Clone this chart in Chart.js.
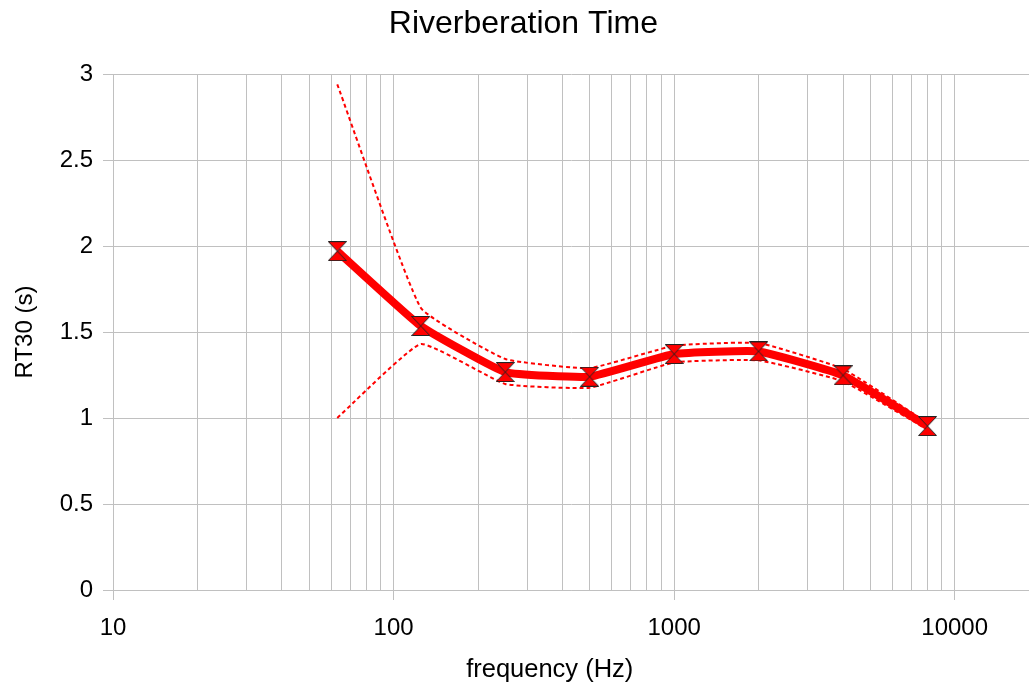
<!DOCTYPE html>
<html>
<head>
<meta charset="utf-8">
<title>Riverberation Time</title>
<script src="https://cdn.jsdelivr.net/npm/chart.js@4.4.1/dist/chart.umd.min.js"></script>
<style>
  html, body { margin: 0; padding: 0; background: #fff; }
  #wrap { width: 1029px; height: 688px; position: relative; }
  canvas { display: block; }
</style>
</head>
<body>
<div id="wrap"><canvas id="myCanvas"></canvas></div>
<script>
// octave band centres (Hz)
const freqs = [63, 125, 250, 500, 1000, 2000, 4000, 8000];

// RT30 (s)
const rt30 = [1.97, 1.535, 1.267, 1.24, 1.372, 1.387, 1.248, 0.953];
const rt30Upper = [2.94, 1.641, 1.343, 1.29, 1.42, 1.436, 1.285, 0.972];
const rt30Lower = [1.0, 1.43, 1.198, 1.176, 1.323, 1.335, 1.213, 0.932];

// x axis labelled decades
const decades = [10, 100, 1000, 10000];
const xMax = 18400;

const toPoints = (vals) => freqs.map((f, i) => ({ x: f, y: vals[i] }));

// hourglass marker
function hourglass() {
  const c = document.createElement('canvas');
  c.width = 19;
  c.height = 20;
  const g = c.getContext('2d');
  g.fillStyle = '#ff0000';
  g.strokeStyle = '#222';
  g.lineWidth = 1;
  g.beginPath();
  g.moveTo(0.5, 0.5);
  g.lineTo(18.5, 0.5);
  g.lineTo(9.5, 10);
  g.closePath();
  g.moveTo(0.5, 19.5);
  g.lineTo(18.5, 19.5);
  g.lineTo(9.5, 10);
  g.closePath();
  g.fill();
  g.stroke();
  return c;
}

// grid lines at 1..9 x each decade, inside the axis range
const gridValues = [];
decades.forEach(d => {
  for (let k = 1; k <= 9; k++) {
    if (d * k < xMax) gridValues.push(d * k);
  }
});

const isDecade = (v) => decades.includes(v);
const FONT = '"Liberation Sans", Arial, sans-serif';

const data = {
  datasets: [
    {
      label: 'RT30',
      data: toPoints(rt30),
      borderColor: '#ff0000',
      backgroundColor: '#ff0000',
      borderWidth: 8,
      pointStyle: hourglass(),
      pointRadius: 10,
      tension: 0.12,
      order: 0
    },
    {
      label: 'upper',
      data: toPoints(rt30Upper),
      borderColor: '#ff0000',
      borderWidth: 2,
      borderDash: [4, 3],
      pointRadius: 0,
      tension: 0.12,
      order: 1
    },
    {
      label: 'lower',
      data: toPoints(rt30Lower),
      borderColor: '#ff0000',
      borderWidth: 2,
      borderDash: [4, 3],
      pointRadius: 0,
      tension: 0.12,
      order: 2
    }
  ]
};

const config = {
  type: 'line',
  data: data,
  options: {
    responsive: true,
    maintainAspectRatio: false,
    animation: false,
    layout: { padding: 0, autoPadding: false },
    plugins: {
      legend: { display: false },
      tooltip: { enabled: false },
      title: {
        display: true,
        // leading spaces nudge the title a little right, like the original
        text: '  Riverberation Time',
        color: '#000',
        font: { family: FONT, size: 32, weight: 'normal' },
        padding: { top: 5, bottom: 30.6 }
      }
    },
    scales: {
      x: {
        type: 'logarithmic',
        min: 10,
        max: xMax,
        afterBuildTicks: (scale) => {
          scale.ticks = gridValues.map(v => ({ value: v, major: isDecade(v) }));
        },
        afterFit: (scale) => {
          scale.height = 98;
          scale.paddingLeft = 0;
          scale.paddingRight = 0;
        },
        ticks: {
          autoSkip: false,
          maxRotation: 0,
          padding: 14,
          color: '#000',
          font: { family: FONT, size: 24 },
          callback: (v) => isDecade(v) ? String(v) : ''
        },
        grid: {
          color: '#c0c0c0',
          lineWidth: 1,
          tickLength: 10,
          tickColor: (ctx) => (ctx.tick && isDecade(ctx.tick.value)) ? '#c0c0c0' : 'rgba(0,0,0,0)'
        },
        border: { color: '#c0c0c0' },
        title: {
          display: true,
          // trailing spaces shift it left to sit where the original one is
          text: 'frequency (Hz)      ',
          color: '#000',
          font: { family: FONT, size: 25.5 },
          padding: { top: 0, bottom: 3 }
        }
      },
      y: {
        min: 0,
        max: 3,
        afterFit: (scale) => { scale.width = 113; },
        ticks: {
          stepSize: 0.5,
          padding: 10,
          color: '#000',
          font: { family: FONT, size: 24 },
          callback: (v) => String(v)
        },
        grid: {
          color: '#c0c0c0',
          lineWidth: 1,
          tickLength: 10
        },
        border: { color: '#c0c0c0' },
        title: {
          display: true,
          text: 'RT30 (s)',
          color: '#000',
          font: { family: FONT, size: 24 },
          padding: { top: 11, bottom: 0 }
        }
      }
    }
  }
};

const myChart = new Chart(
  document.getElementById('myCanvas'),
  config
);
</script>
</body>
</html>
